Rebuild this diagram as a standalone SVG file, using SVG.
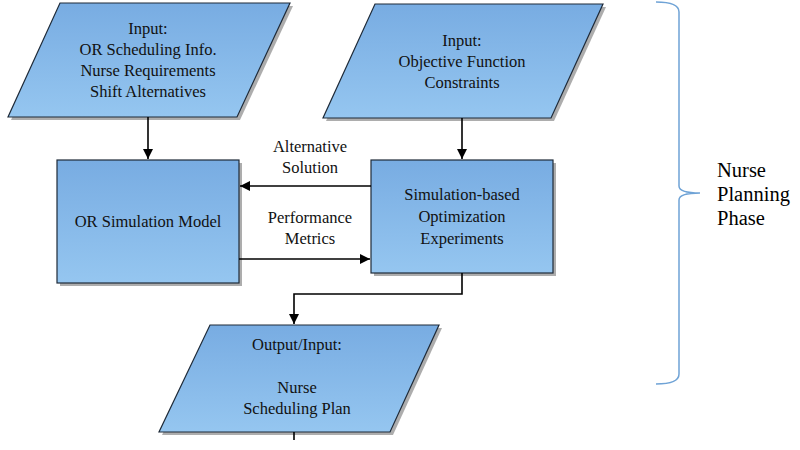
<svg xmlns="http://www.w3.org/2000/svg" width="800" height="450" viewBox="0 0 800 450">
<defs>
<linearGradient id="g" x1="0" y1="0" x2="0" y2="1">
<stop offset="0" stop-color="#78ace2"/>
<stop offset="1" stop-color="#95c6f0"/>
</linearGradient>
<marker id="ah" viewBox="0 0 10 10" refX="10" refY="5" markerWidth="10" markerHeight="10" markerUnits="userSpaceOnUse" orient="auto">
<path d="M0,0 L10,5 L0,10 z" fill="#000"/>
</marker>
</defs>
<style>
.sh{fill:#8a8a8a;opacity:0.7}
.nd{fill:url(#g);stroke:#1e2a38;stroke-width:1.2}
.t{font-family:"Liberation Serif","Times New Roman",serif;font-size:16.5px;fill:#111;text-anchor:middle}
.c{stroke:#000;stroke-width:1.6;fill:none}
.br{stroke:#6fa3d6;stroke-width:1.5;fill:none}
.bt{font-family:"Liberation Serif","Times New Roman",serif;font-size:20.5px;fill:#000}
</style>
<rect width="800" height="450" fill="#fff"/>
<g id="input1">
<polygon class="sh" points="63,6 293,6 240,120 11,120"/>
<polygon class="nd" points="60,3 290,3 237,117 8,117"/>
<text class="t" x="148" y="34">Input:</text>
<text class="t" x="148" y="55">OR Scheduling Info.</text>
<text class="t" x="148" y="76">Nurse Requirements</text>
<text class="t" x="148" y="97">Shift Alternatives</text>
</g>
<g id="input2">
<polygon class="sh" points="378,7 606,7 554,121 326,121"/>
<polygon class="nd" points="375,4 603,4 551,118 323,118"/>
<text class="t" x="462" y="46">Input:</text>
<text class="t" x="462" y="67">Objective Function</text>
<text class="t" x="462" y="88">Constraints</text>
</g>
<g id="orsim">
<rect class="sh" x="60" y="163" width="182" height="123"/>
<rect class="nd" x="57" y="160" width="182" height="123"/>
<text class="t" x="148" y="227">OR Simulation Model</text>
</g>
<g id="sbo">
<rect class="sh" x="374" y="163" width="182" height="113"/>
<rect class="nd" x="371" y="160" width="182" height="113"/>
<text class="t" x="462" y="200">Simulation-based</text>
<text class="t" x="462" y="222">Optimization</text>
<text class="t" x="462" y="244">Experiments</text>
</g>
<g id="output">
<polygon class="sh" points="213,328 442,328 393,435 162,435"/>
<polygon class="nd" points="210,325 439,325 390,432 159,432"/>
<text class="t" x="297" y="350">Output/Input:</text>
<text class="t" x="297" y="393">Nurse</text>
<text class="t" x="297" y="414">Scheduling Plan</text>
</g>
<g id="connectors">
<line class="c" x1="148" y1="117" x2="148" y2="159" marker-end="url(#ah)"/>
<line class="c" x1="462" y1="118" x2="462" y2="159" marker-end="url(#ah)"/>
<line class="c" x1="371" y1="186" x2="240" y2="186" marker-end="url(#ah)"/>
<line class="c" x1="239" y1="259" x2="370" y2="259" marker-end="url(#ah)"/>
<polyline class="c" points="462,273 462,294 294,294 294,324" marker-end="url(#ah)"/>
<line class="c" x1="294" y1="432" x2="294" y2="440"/>
<text class="t" x="310" y="152">Alternative</text>
<text class="t" x="310" y="173">Solution</text>
<text class="t" x="310" y="223">Performance</text>
<text class="t" x="310" y="244">Metrics</text>
</g>
<g id="phase">
<path class="br" d="M656,2 Q679,2 679,12 L679,186 Q679,193 700,193 Q679,193 679,200 L679,374 Q679,384 656,384"/>
<text class="bt" x="717" y="177">Nurse</text>
<text class="bt" x="717" y="201">Planning</text>
<text class="bt" x="717" y="225">Phase</text>
</g>
</svg>
